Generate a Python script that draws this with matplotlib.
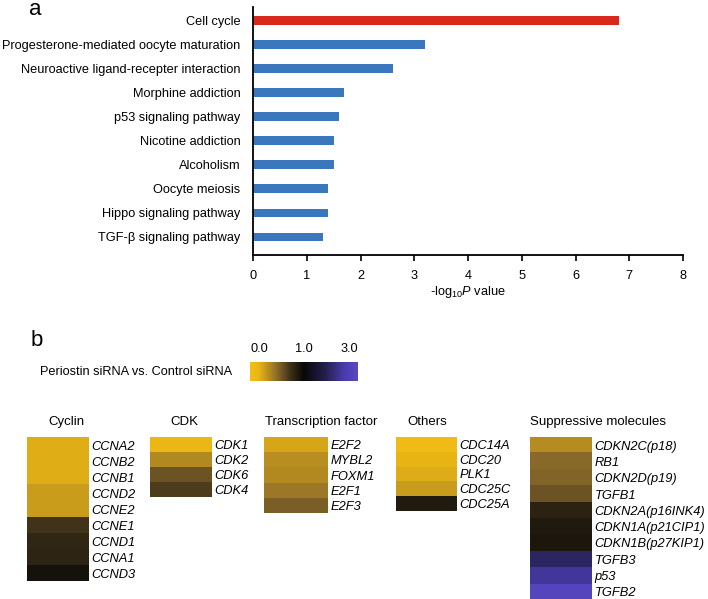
import numpy as np
import matplotlib
matplotlib.use("Agg")
import matplotlib.pyplot as plt
from matplotlib.colors import LinearSegmentedColormap, TwoSlopeNorm
from matplotlib.cm import ScalarMappable

plt.rcParams["font.family"] = ["Liberation Sans", "DejaVu Sans"]
plt.rcParams["mathtext.fontset"] = "custom"
plt.rcParams["mathtext.rm"] = "Liberation Sans"
plt.rcParams["mathtext.it"] = "Liberation Sans:italic"

# panel a: KEGG pathways
pathways = ["Cell cycle", "Progesterone-mediated oocyte maturation",
            "Neuroactive ligand-recepter interaction", "Morphine addiction",
            "p53 signaling pathway", "Nicotine addiction", "Alcoholism",
            "Oocyte meiosis", "Hippo signaling pathway",
            "TGF-\u03b2 signaling pathway"]
neglogp = [6.8, 3.2, 2.6, 1.7, 1.6, 1.5, 1.5, 1.4, 1.4, 1.3]

# panel b: fold change, Periostin siRNA vs. Control siRNA
cyclin_genes = ["CCNA2", "CCNB2", "CCNB1", "CCND2", "CCNE2", "CCNE1",
                "CCND1", "CCNA1", "CCND3"]
cyclin_vals = [0.2, 0.2, 0.2, 0.28, 0.28, 0.74, 0.81, 0.82, 0.93]
cdk_genes = ["CDK1", "CDK2", "CDK6", "CDK4"]
cdk_vals = [0.14, 0.36, 0.6, 0.7]
tf_genes = ["E2F2", "MYBL2", "FOXM1", "E2F1", "E2F3"]
tf_vals = [0.23, 0.34, 0.36, 0.44, 0.55]
other_genes = ["CDC14A", "CDC20", "PLK1", "CDC25C", "CDC25A"]
other_vals = [0.06, 0.17, 0.21, 0.28, 0.88]
supp_genes = ["CDKN2C(p18)", "RB1", "CDKN2D(p19)", "TGFB1", "CDKN2A(p16INK4)",
              "CDKN1A(p21CIP1)", "CDKN1B(p27KIP1)", "TGFB3", "p53", "TGFB2"]
supp_vals = [0.35, 0.5, 0.53, 0.6, 0.83, 0.89, 0.9, 1.93, 2.36, 2.9]

W, H = 708, 599
fig = plt.figure(figsize=(W / 100, H / 100), dpi=100)


def px_axes(x0, y0, x1, y1):
    # pixel box (top-left origin) -> figure axes
    return fig.add_axes([x0 / W, 1 - y1 / H, (x1 - x0) / W, (y1 - y0) / H])


# ---- panel a ----
ax = px_axes(253, 7, 683, 255)
ypos = np.arange(len(pathways))
colors = ["#d9281c"] + ["#3a77bd"] * (len(pathways) - 1)
ax.barh(ypos, neglogp, height=0.36, color=colors)
ax.set_ylim(9.75, -0.55)
ax.set_xlim(0, 8)
ax.set_yticks(ypos)
ax.set_yticklabels(pathways, fontsize=9.2)
ax.tick_params(axis="y", length=0, pad=9)
ax.set_xticks(range(9))
ax.tick_params(axis="x", labelsize=9.2, length=4, width=1.2, pad=7)
ax.spines[["top", "right"]].set_visible(False)
ax.spines[["left", "bottom"]].set_linewidth(1.3)
ax.set_xlabel(r"-log$_{10}$$\it{P}$ value", fontsize=9.2, labelpad=1)
fig.text(35 / W, 1 - 15 / H, "a", fontsize=16, ha="center", va="baseline")

# ---- panel b ----
fig.text(37 / W, 1 - 346 / H, "b", fontsize=16, ha="center", va="baseline")

cmap = LinearSegmentedColormap.from_list("gold_black_purple", [
    (0.0, "#f2be14"), (0.08, "#eab614"), (0.25, "#8a6a2a"),
    (0.38, "#3a2e18"), (0.5, "#080706"), (0.7, "#24204e"),
    (0.88, "#4a3cb0"), (1.0, "#5848c0")])
norm = TwoSlopeNorm(vmin=0.0, vcenter=1.0, vmax=3.0)

cax = px_axes(250, 362, 358, 381)
cb = fig.colorbar(ScalarMappable(norm=norm, cmap=cmap), cax=cax,
                  orientation="horizontal")
cb.outline.set_visible(False)
cb.set_ticks([0.0, 1.0, 3.0])
cb.set_ticklabels(["0.0", "1.0", "3.0"])
cax.xaxis.set_ticks_position("top")
cax.tick_params(length=0, labelsize=9.2, pad=5)
tl = cax.get_xticklabels()
tl[0].set_horizontalalignment("left")
tl[2].set_horizontalalignment("right")
fig.text(232 / W, 1 - 372 / H, "Periostin siRNA vs. Control siRNA",
         fontsize=9.2, ha="right", va="center")

groups = [
    ("Cyclin", cyclin_genes, cyclin_vals, 27, 89, 16.0, 48),
    ("CDK", cdk_genes, cdk_vals, 150, 212, 15.0, 170),
    ("Transcription factor", tf_genes, tf_vals, 264, 328, 15.2, 265),
    ("Others", other_genes, other_vals, 396, 457, 14.8, 407),
    ("Suppressive molecules", supp_genes, supp_vals, 530, 592, 16.3, 530),
]
top = 437
for title, genes, vals, x0, x1, rowh, tx in groups:
    hax = px_axes(x0, top, x1, top + rowh * len(genes))
    hax.imshow(np.array(vals)[:, None], cmap=cmap, norm=norm, aspect="auto")
    hax.set_xticks([])
    hax.set_yticks(range(len(genes)))
    hax.set_yticklabels(genes, fontsize=9.3, style="italic")
    hax.yaxis.tick_right()
    hax.tick_params(axis="y", length=0, pad=2)
    for s in hax.spines.values():
        s.set_visible(False)
    fig.text(tx / W, 1 - 422 / H, title, fontsize=9.5, ha="left", va="center")

fig.savefig("out.png", dpi=100)
